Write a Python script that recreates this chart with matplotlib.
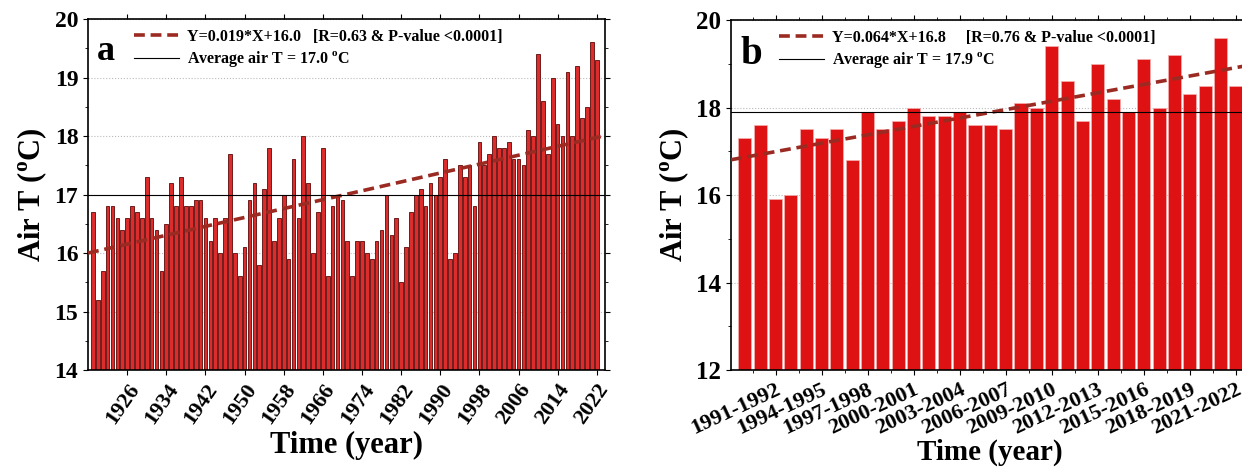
import numpy as np
import matplotlib.pyplot as plt
from matplotlib.ticker import MultipleLocator

plt.rcParams['font.family'] = 'Liberation Serif'
plt.rcParams['font.weight'] = 'bold'
plt.rcParams['mathtext.fontset'] = 'custom'
plt.rcParams['mathtext.rm'] = 'Liberation Serif:bold'
plt.rcParams['axes.linewidth'] = 1.2

# annual mean air temperature, 1919-2022
years = np.arange(1919, 2023)
temp_annual = [
    16.7, 15.2, 15.7, 16.8, 16.8, 16.6, 16.4, 16.6, 16.8, 16.7,
    16.6, 17.3, 16.6, 16.4, 15.7, 16.5, 17.2, 16.8, 17.3, 16.8,
    16.8, 16.9, 16.9, 16.6, 16.2, 16.6, 16.0, 16.6, 17.7, 16.0,
    15.6, 16.1, 16.9, 17.2, 15.8, 17.1, 17.8, 16.2, 16.6, 17.0,
    15.9, 17.6, 16.6, 18.0, 17.2, 16.0, 16.7, 17.8, 15.6, 16.8,
    17.0, 16.9, 16.2, 15.6, 16.2, 16.2, 16.0, 15.9, 16.2, 16.4,
    17.0, 16.3, 16.6, 15.5, 16.1, 16.7, 17.0, 17.1, 16.8, 17.2,
    17.0, 17.3, 17.6, 15.9, 16.0, 17.5, 17.3, 17.5, 16.8, 17.9,
    17.5, 17.7, 18.0, 17.8, 17.8, 17.9, 17.6, 17.6, 17.5, 18.1,
    18.0, 19.4, 18.6, 17.7, 19.0, 18.2, 18.0, 19.1, 18.0, 19.2,
    18.3, 18.5, 19.6, 19.3,
]
year_ticks = np.arange(1926, 2023, 8)

# water-year means, 1989-1990 to 2021-2022
periods = [f'{y}-{y + 1}' for y in range(1989, 2022)]
temp_period = [
    17.3, 17.6, 15.9, 16.0, 17.5, 17.3, 17.5, 16.8, 17.9, 17.5,
    17.7, 18.0, 17.8, 17.8, 17.9, 17.6, 17.6, 17.5, 18.1, 18.0,
    19.4, 18.6, 17.7, 19.0, 18.2, 17.9, 19.1, 18.0, 19.2, 18.3,
    18.5, 19.6, 18.5,
]

slope_a, icpt_a, mean_a = 0.019, 16.0, 17.0
slope_b, icpt_b, mean_b = 0.064, 16.8, 17.9

fig = plt.figure(figsize=(12.42, 4.72), dpi=100)
ax1 = fig.add_axes([0.0709, 0.216, 0.4163, 0.7437])
ax2 = fig.add_axes([0.5886, 0.216, 0.4163, 0.7416])

# ---- (a) annual series ----
ax1.bar(years, temp_annual, width=0.75, color='#dd2c2c', edgecolor='#6e1c1c',
        linewidth=0.7, zorder=2)
xa = np.linspace(1918, 2023.7, 50)
ax1.plot(xa, slope_a * (xa - 1918) + icpt_a, ls=(0, (3, 1.6)), lw=2.6,
         color='#9b2b22', zorder=3,
         label=f'Y={slope_a}*X+{icpt_a}   [R=0.63 & P-value <0.0001]')
ax1.axhline(mean_a, color='black', lw=0.8, zorder=3,
            label=f'Average air T = {mean_a} $^\\mathrm{{o}}$C')
ax1.set_xlim(1918, 2023.7)
ax1.set_ylim(14, 20)
ax1.set_xticks(year_ticks)
ax1.set_xticklabels([str(y) for y in year_ticks], rotation=55, ha='right',
                    rotation_mode='anchor', fontsize=16)
ax1.yaxis.set_major_locator(MultipleLocator(1))
ax1.yaxis.set_minor_locator(MultipleLocator(0.5))
ax1.tick_params(axis='y', labelsize=17)
ax1.tick_params(which='both', top=True, right=True)
ax1.grid(axis='y', ls=':', color='#bbbbbb', lw=0.8, zorder=0)
ax1.set_xlabel('Time (year)', fontsize=22, fontweight='bold', labelpad=2)
ax1.set_ylabel('Air T ($^\\mathrm{o}$C)', fontsize=22, fontweight='bold')
ax1.text(0.018, 0.955, 'a', transform=ax1.transAxes, fontsize=26,
         fontweight='bold', va='top')
ax1.legend(loc='upper left', bbox_to_anchor=(0.07, 1.0), frameon=False,
           fontsize=11.5, handlelength=2.8, handletextpad=0.5,
           borderaxespad=0.2, labelspacing=0.3)

# ---- (b) two-year periods ----
idx = np.arange(1, len(temp_period) + 1)
ax2.bar(idx, temp_period, width=0.85, color='#de1212', edgecolor='#f4b0b0',
        linewidth=0.5, zorder=2)
xb = np.linspace(0.1, 33.8, 50)
ax2.plot(xb, slope_b * xb + icpt_b, ls=(0, (3, 1.6)), lw=2.6, color='#9b2b22',
         zorder=3,
         label=f'Y={slope_b}*X+{icpt_b}     [R=0.76 & P-value <0.0001]')
ax2.axhline(mean_b, color='black', lw=0.8, zorder=3,
            label=f'Average air T = {mean_b} $^\\mathrm{{o}}$C')
ax2.set_xlim(0.1, 33.8)
ax2.set_ylim(12, 20)
ax2.set_xticks(idx[2::3])
ax2.set_xticklabels(periods[2::3], rotation=25, ha='right',
                    rotation_mode='anchor', fontsize=16)
ax2.xaxis.set_minor_locator(MultipleLocator(1.5))
ax2.yaxis.set_major_locator(MultipleLocator(2))
ax2.yaxis.set_minor_locator(MultipleLocator(1))
ax2.tick_params(axis='y', labelsize=18)
ax2.tick_params(which='both', top=True)
ax2.grid(axis='y', ls=':', color='#bbbbbb', lw=0.8, zorder=0)
ax2.set_xlabel('Time (year)', fontsize=21, fontweight='bold', labelpad=0)
ax2.set_ylabel('Air T ($^\\mathrm{o}$C)', fontsize=22, fontweight='bold')
ax2.text(0.018, 0.955, 'b', transform=ax2.transAxes, fontsize=28,
         fontweight='bold', va='top')
ax2.legend(loc='upper left', bbox_to_anchor=(0.075, 1.0), frameon=False,
           fontsize=11.5, handlelength=2.8, handletextpad=0.5,
           borderaxespad=0.2, labelspacing=0.3)

fig.savefig('out.png', dpi=100)
